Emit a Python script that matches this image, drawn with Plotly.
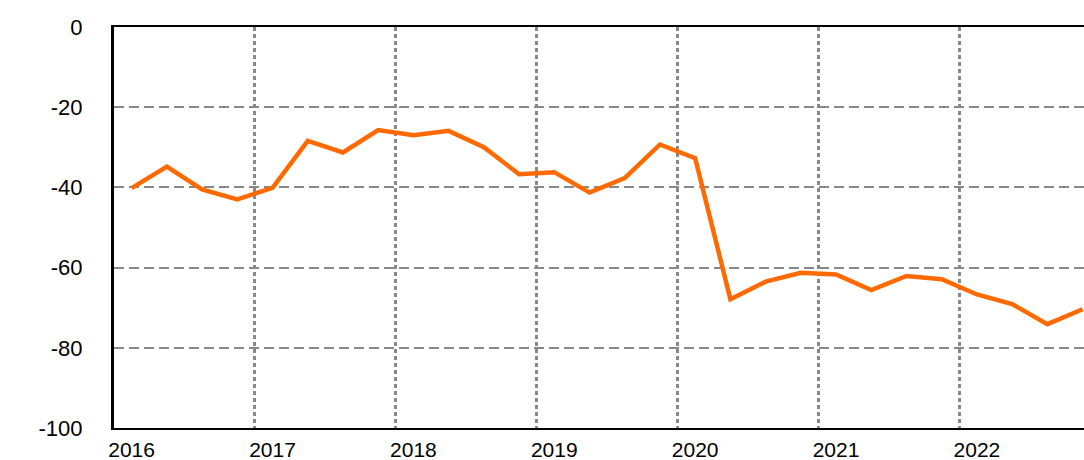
import plotly.graph_objects as go

quarters = [f"{y}Q{q}" for y in range(2016, 2023) for q in range(1, 5)]
values = [-40.2, -34.8, -40.5, -43.0,
          -40.1, -28.4, -31.3, -25.7,
          -27.0, -25.9, -30.0, -36.7,
          -36.2, -41.3, -37.7, -29.3,
          -32.7, -67.9, -63.5, -61.3,
          -61.7, -65.6, -62.1, -62.9,
          -66.7, -69.1, -74.1, -70.4]
year_labels = ["2016", "2017", "2018", "2019", "2020", "2021", "2022"]
y_ticks = [0, -20, -40, -60, -80, -100]

x_idx = list(range(len(quarters)))
year_pos = [i for i, q in enumerate(quarters) if q.endswith("Q1")]
year_bounds = [p - 0.5 for p in year_pos[1:]]

fig = go.Figure()
fig.add_trace(go.Scatter(
    x=x_idx, y=values, mode="lines",
    line=dict(color="#FF6A00", width=4.5),
    customdata=quarters, hovertemplate="%{customdata}: %{y}<extra></extra>",
))

fig.update_layout(
    width=1084, height=460,
    margin=dict(l=114, r=0, t=27, b=32, autoexpand=False),
    paper_bgcolor="white", plot_bgcolor="white",
    showlegend=False,
    font=dict(family="Liberation Sans, Arial, sans-serif", size=22, color="black"),
)
fig.update_xaxes(
    range=[-0.5, 27.04],
    tickmode="array", tickvals=year_pos, ticktext=year_labels,
    tickfont=dict(size=21),
    showgrid=False, zeroline=False,
    showline=True, linecolor="black", linewidth=2, mirror=True,
    ticks="", ticklabelstandoff=2, automargin=False,
    minor=dict(tickmode="array", tickvals=year_bounds, showgrid=True,
               gridcolor="#888888", gridwidth=3, griddash="4px,3px", ticks=""),
)
fig.update_yaxes(
    range=[-100, 0],
    tickmode="array", tickvals=y_ticks, ticktext=[str(v) for v in y_ticks],
    showgrid=True, gridcolor="#888888", gridwidth=2, griddash="10px,5px",
    zeroline=False,
    showline=True, linecolor="black", linewidth=3, mirror=False,
    ticks="", ticklabelstandoff=24, automargin=False,
)

fig.write_html(
    "out.html",
    config={"displayModeBar": False},
    post_script="document.body.style.margin='0';document.body.style.overflow='hidden';",
)
